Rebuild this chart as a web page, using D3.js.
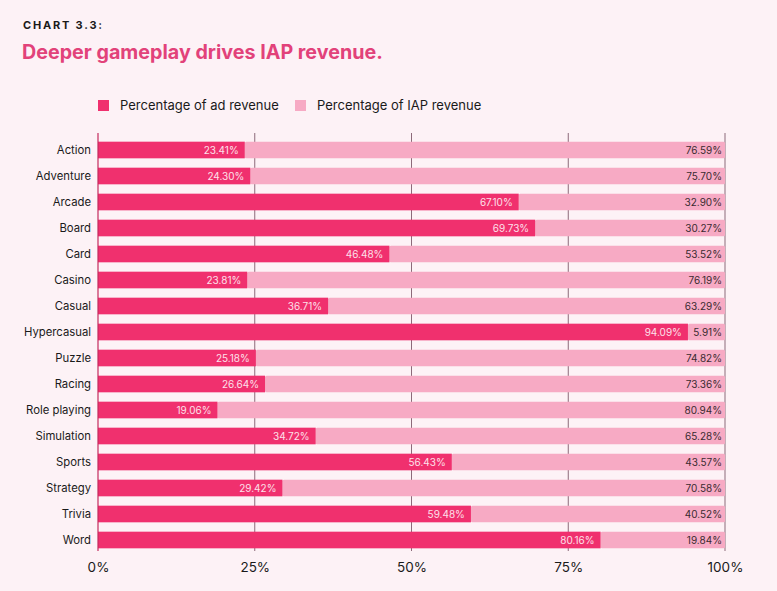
<!DOCTYPE html>
<html><head><meta charset="utf-8">
<script src="https://cdn.jsdelivr.net/npm/d3@7"></script>
<style>
html,body{margin:0;padding:0;background:#fdf2f6;}
svg{display:block;font-family:Inter,"Noto Sans",sans-serif;}
</style></head>
<body><svg id="c" width="777" height="591"></svg>
<script>
const categories = ["Action","Adventure","Arcade","Board","Card","Casino","Casual","Hypercasual","Puzzle","Racing","Role playing","Simulation","Sports","Strategy","Trivia","Word"];
const adRevenue = [23.41,24.30,67.10,69.73,46.48,23.81,36.71,94.09,25.18,26.64,19.06,34.72,56.43,29.42,59.48,80.16];
const iapRevenue = [76.59,75.70,32.90,30.27,53.52,76.19,63.29,5.91,74.82,73.36,80.94,65.28,43.57,70.58,40.52,19.84];
const tickValues = [0,25,50,75,100];
const seriesNames = ["Percentage of ad revenue","Percentage of IAP revenue"];

const colAd = "#f0306e", colIap = "#f7aac4";
const svg = d3.select("#c");
svg.append("rect").attr("width",777).attr("height",591).attr("fill","#fdf2f6");

svg.append("text").attr("x",23).attr("y",29).text("CHART 3.3:")
  .attr("font-size",11).attr("font-weight",700).attr("letter-spacing","1.8px").attr("fill","#1a1a1a");
svg.append("text").attr("x",22).attr("y",59).text("Deeper gameplay drives IAP revenue.")
  .attr("font-size",19.7).attr("font-weight",700).attr("fill","#e2427a");

const x = d3.scaleLinear().domain([0,100]).range([98,725]);
const y = d3.scaleBand().domain(categories).range([137,553]).paddingInner(0.36).paddingOuter(0.18);

// legend
const leg = [{n:seriesNames[0],c:colAd,x:98},{n:seriesNames[1],c:colIap,x:295}];
leg.forEach(l=>{
  svg.append("rect").attr("x",l.x).attr("y",100).attr("width",11).attr("height",11).attr("fill",l.c);
  svg.append("text").attr("x",l.x+22).attr("y",110).text(l.n).attr("font-size",13).attr("fill","#1a1a1a");
});

// gridlines
svg.append("g").selectAll("line").data(tickValues.slice(1)).join("line")
  .attr("x1",d=>x(d)).attr("x2",d=>x(d)).attr("y1",133).attr("y2",551)
  .attr("stroke","#8c6a7a").attr("stroke-width",1);

const rows = categories.map((c,i)=>({c,ad:adRevenue[i],iap:iapRevenue[i]}));
const g = svg.append("g");
// IAP bars
g.selectAll("rect.iap").data(rows).join("rect").attr("class","iap")
  .attr("x",d=>x(d.ad)).attr("y",d=>y(d.c)).attr("width",d=>x(d.ad+d.iap)-x(d.ad)).attr("height",y.bandwidth())
  .attr("fill",colIap).attr("rx",1.5);
g.selectAll("rect.ad").data(rows).join("rect").attr("class","ad")
  .attr("x",x(0)).attr("y",d=>y(d.c)).attr("width",d=>x(d.ad)-x(0)).attr("height",y.bandwidth())
  .attr("fill",colAd);

// axis line at 0
svg.append("line").attr("x1",x(0)).attr("x2",x(0)).attr("y1",133).attr("y2",551).attr("stroke","#c42a5e").attr("stroke-width",1.2);

// labels
g.selectAll("text.adl").data(rows).join("text").attr("class","adl")
  .attr("x",d=>x(d.ad)-6).attr("y",d=>y(d.c)+y.bandwidth()/2).attr("dy","0.35em")
  .attr("text-anchor","end").attr("font-size",10).attr("fill","#fde0ea").text(d=>d.ad.toFixed(2)+"%");
g.selectAll("text.iapl").data(rows).join("text").attr("class","iapl")
  .attr("x",x(100)-3).attr("y",d=>y(d.c)+y.bandwidth()/2).attr("dy","0.35em")
  .attr("text-anchor","end").attr("font-size",10).attr("fill","#3a2a30").text(d=>d.iap.toFixed(2)+"%");

// category axis
g.selectAll("text.cat").data(categories).join("text").attr("class","cat")
  .attr("x",91).attr("y",d=>y(d)+y.bandwidth()/2).attr("dy","0.35em")
  .attr("text-anchor","end").attr("font-size",11.3).attr("fill","#1a1a1a").text(d=>d);

// x axis
const xa = svg.append("g").attr("transform","translate(0,560)")
  .call(d3.axisBottom(x).tickValues(tickValues).tickFormat(d=>d+"%").tickSize(0).tickPadding(0));
xa.select(".domain").remove();
xa.selectAll("text").attr("font-size",13.5).attr("fill","#1a1a1a").attr("font-family","Inter,sans-serif").attr("dy","0.9em");
</script></body></html>
